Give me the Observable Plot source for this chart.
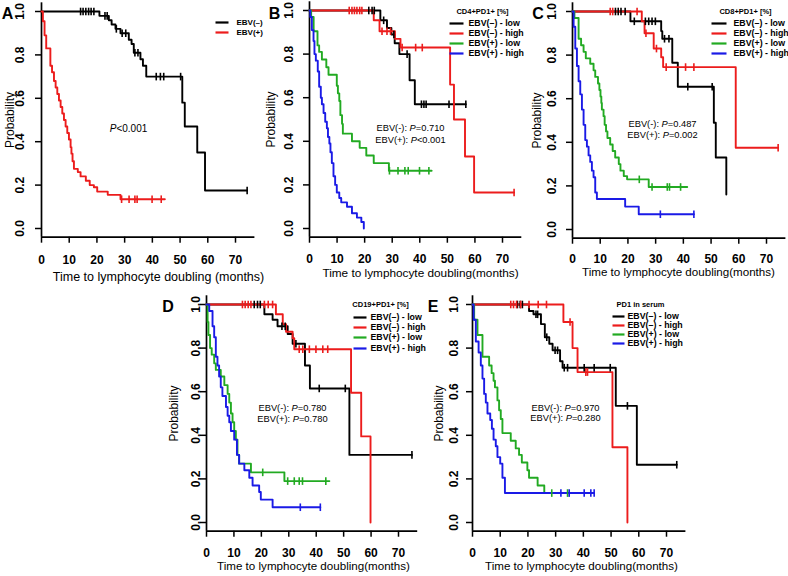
<!DOCTYPE html>
<html><head><meta charset="utf-8">
<script src="https://cdn.jsdelivr.net/npm/d3@7"></script>
<script src="https://cdn.jsdelivr.net/npm/@observablehq/plot@0.6"></script>
<style>
html,body{margin:0;padding:0;background:#fff;}
#chart{position:relative;width:788px;height:576px;overflow:hidden;font-family:"Liberation Sans",Arial,sans-serif;background:#fff;}
#chart svg{position:absolute;overflow:visible;background:transparent !important;max-width:none !important;}
</style></head><body><div id="chart"></div>
<script>
// ================= DATA =================
const xTicks = [0, 10, 20, 30, 40, 50, 60, 70];
const yTicks = [0, 0.2, 0.4, 0.6, 0.8, 1.0];
const xDomain = [0, 77];
const yDomain = [-0.04, 1.04];
const namesTwo = ["EBV(–)", "EBV(+)"];
const namesFour = ["EBV(–) - low", "EBV(–) - high", "EBV(+) - low", "EBV(+) - high"];
const letters = ["A", "B", "C", "D", "E"];
const legendTitles = [null, "CD4+PD1+ [%]", "CD8+PD1+ [%]", "CD19+PD1+ [%]", "PD1 in serum"];
const xTitleA = "Time to lymphocyte doubling (months)";
const xTitleOther = "Time to lymphocyte doubling(months)";
const yTitle = "Probability";
const notesA = ["P<0.001"];
const notesB = ["EBV(-): P=0.710", "EBV(+): P<0.001"];
const notesC = ["EBV(-): P=0.487", "EBV(+): P=0.002"];
const notesD = ["EBV(-): P=0.780", "EBV(+): P=0.780"];
const notesE = ["EBV(-): P=0.970", "EBV(+): P=0.280"];

// Panel A: [time, survival] steps and censor times
const aNegSteps = [[0,1],[20.9,0.98],[24.3,0.96],[25.3,0.94],[26.7,0.92],[28.5,0.9],[31.5,0.87],[32.5,0.85],[33.3,0.81],[35.7,0.78],[36.6,0.75],[37.8,0.7],[50.8,0.58],[51.7,0.47],[56.2,0.35],[59,0.175],[74.2,0.175]];
const aNegCens = [14.1,15,16,17,17.9,18.9,22.9,23.7,27,29.1,30.4,33.7,34.8,41.4,42.9,44.1,50.2,74.2];
const aPosSteps = [[0,1],[0.5,0.955],[1.1,0.89],[1.7,0.83],[3.2,0.75],[3.8,0.72],[4.5,0.68],[5.1,0.65],[5.7,0.62],[6.3,0.59],[6.9,0.56],[7.5,0.53],[8.1,0.5],[8.7,0.47],[9.3,0.44],[9.9,0.41],[10.5,0.375],[10.8,0.345],[11.2,0.31],[11.7,0.275],[13.1,0.26],[14.1,0.24],[16,0.22],[17.4,0.2],[18.9,0.19],[20.1,0.17],[23.9,0.155],[28.5,0.135],[44.5,0.135]];
const aPosCens = [28.9,31.6,33.7,34.5,39.9,43.2];

// Panel B
const bNegLowSteps = [[0,1],[25.7,0.955],[28.1,0.92],[29.7,0.89],[30.9,0.85],[32.6,0.8],[36.3,0.68],[38.2,0.57],[56.7,0.57]];
const bNegLowCens = [21.5,22.7,23.5,26.9,30.6,35.4,40.6,41.5,42.3,50.6,56.7];
const bNegHighSteps = [[0,1],[23.3,0.955],[25.4,0.905],[31,0.87],[33,0.83],[51,0.66],[52.4,0.5],[56.4,0.33],[59.7,0.165],[74.2,0.165]];
const bNegHighCens = [14.4,15.4,16.3,17.2,18.2,19,26.3,28.1,29.4,33.6,38.5,40.9,74.2];
const bPosLowSteps = [[0,1],[0.6,0.97],[1.5,0.905],[2.9,0.84],[3.5,0.81],[4.5,0.775],[6.1,0.74],[6.9,0.705],[9.9,0.655],[10.3,0.62],[10.8,0.585],[11.2,0.52],[11.8,0.48],[12.1,0.435],[15.4,0.4],[18.2,0.37],[20.6,0.335],[23.3,0.3],[28.8,0.265],[44.3,0.265]];
const bPosLowCens = [29,32.1,34.6,35.8,39.9,43.3];
const bPosHighSteps = [[0,1],[0.3,0.97],[0.85,0.91],[1.46,0.86],[1.8,0.8],[2.3,0.77],[3,0.72],[3.5,0.65],[4.1,0.6],[4.5,0.57],[5.1,0.53],[5.7,0.49],[6.3,0.46],[6.7,0.42],[7.2,0.39],[7.6,0.35],[8.1,0.3],[8.7,0.24],[9.3,0.2],[9.9,0.165],[10.8,0.14],[11.5,0.12],[13.6,0.1],[15.4,0.07],[17.2,0.05],[18.8,0.03],[19.7,0]];
const bPosHighCens = [];

// Panel C
const cNegLowSteps = [[0,1],[20.9,0.955],[32,0.91],[32.4,0.875],[36,0.765],[38,0.655],[51,0.49],[51.7,0.33],[55.5,0.16]];
const cNegLowCens = [15.5,16.5,17.5,19,22.3,26.3,27.5,28.7,29.9,33.2,34.8,41.6,50.4];
const cNegHighSteps = [[0,1],[25,0.955],[26,0.9],[29.3,0.83],[32,0.79],[32.7,0.745],[58.9,0.375],[74.2,0.375]];
const cNegHighCens = [13.6,14.5,23.3,26.5,30.3,33.8,40.8,43.8,74.2];
const cPosLowSteps = [[0,1],[0.7,0.97],[2.2,0.875],[3.1,0.845],[4,0.815],[4.8,0.785],[6.4,0.76],[7.6,0.73],[8.2,0.7],[9.2,0.67],[9.7,0.64],[10.1,0.61],[10.4,0.58],[10.6,0.55],[11.2,0.52],[11.6,0.48],[12.1,0.45],[12.6,0.42],[13.6,0.39],[14.5,0.36],[15.4,0.33],[16.7,0.3],[17.3,0.27],[18.5,0.245],[19.7,0.23],[27.5,0.195],[41.4,0.195]];
const cPosLowCens = [24.1,28.7,34.2,35,39];
const cPosHighSteps = [[0,1],[0.4,0.93],[1,0.83],[1.6,0.75],[2.2,0.68],[2.8,0.62],[3.4,0.55],[4,0.48],[4.6,0.41],[5.2,0.38],[5.8,0.34],[6.4,0.31],[7,0.27],[7.6,0.24],[8.2,0.17],[8.8,0.14],[19,0.105],[23.9,0.07],[43.8,0.07]];
const cPosHighCens = [31.7,43.8];

// Panel D
const dNegLowSteps = [[0,1],[21.1,0.955],[24.1,0.93],[25.9,0.9],[29.6,0.865],[31.4,0.82],[35.9,0.72],[37.7,0.615],[52.1,0.31],[74.9,0.31]];
const dNegLowCens = [17.4,18.6,19.6,27.5,28.7,32.6,41.1,50.6,74.9];
const dNegHighSteps = [[0,1],[25.3,0.955],[27.8,0.91],[29,0.875],[31.4,0.845],[32,0.795],[52.7,0.595],[56.4,0.395],[59.8,0]];
const dNegHighCens = [13.1,14.1,15.2,16.2,21.1,22.5,24.1,33.8,35.1,37.5,39.9,42.4,44.2];
const dPosLowSteps = [[0,1],[0.4,0.92],[0.7,0.86],[1.3,0.8],[1.9,0.77],[2.8,0.73],[3.4,0.7],[5.2,0.67],[6.5,0.63],[7.7,0.59],[8.3,0.55],[8.9,0.5],[9.5,0.46],[10.1,0.42],[10.7,0.38],[11.3,0.31],[11.9,0.27],[16.2,0.23],[28.4,0.19],[44.8,0.19]];
const dPosLowCens = [20.5,29.6,32,33.8,35,43.5];
const dPosHighSteps = [[0,1],[1,0.97],[2.2,0.9],[2.8,0.85],[3.4,0.76],[4,0.72],[4.6,0.67],[5.2,0.62],[5.8,0.58],[7.1,0.53],[7.7,0.49],[8.3,0.46],[8.9,0.42],[10.1,0.38],[11.1,0.31],[11.9,0.27],[13.8,0.24],[15.6,0.205],[16.8,0.17],[19.2,0.14],[19.8,0.105],[24.1,0.07],[41.5,0.07]];
const dPosHighCens = [34.2,41.5];

// Panel E
const eNegLowSteps = [[0,1],[20.4,0.97],[22,0.955],[24.7,0.91],[26.1,0.85],[27.7,0.82],[28.9,0.79],[31.6,0.74],[32.5,0.71],[51.7,0.535],[59.3,0.265],[73.7,0.265]];
const eNegLowCens = [16.2,17.2,18,22.9,23.5,26.8,29.8,30.7,33.1,34.3,40.3,43.9,49.7,55.9,73.7];
const eNegHighSteps = [[0,1],[32.8,0.92],[36.1,0.8],[37.9,0.69],[50.5,0.345],[55.9,0]];
const eNegHighCens = [13.8,14.8,15.9,17.4,20.4,23.7,26.7,35.2,40.9,41.5];
const ePosLowSteps = [[0,1],[0.6,0.93],[1.8,0.86],[3.6,0.76],[6,0.72],[6.9,0.685],[7.6,0.65],[8.1,0.62],[9,0.56],[9.6,0.515],[10.2,0.475],[10.8,0.41],[13.8,0.375],[15.6,0.34],[16.8,0.31],[17.8,0.275],[19.8,0.24],[20.4,0.205],[23.5,0.17],[25.9,0.135],[34.9,0.135]];
const ePosLowCens = [28.6,34.3];
const ePosHighSteps = [[0,1],[0.4,0.93],[1.2,0.83],[2.2,0.78],[3,0.72],[3.6,0.66],[4.2,0.59],[4.8,0.55],[5.4,0.5],[6.4,0.47],[7,0.43],[7.6,0.38],[8.4,0.35],[9,0.3],[10,0.27],[10.8,0.205],[11.7,0.135],[43.9,0.135]];
const ePosHighCens = [31.9,34.9,40.3,42.7,43.9];

// ================= STYLE / LAYOUT =================
const colorsTwo = ["#000000", "#ec1c1c"];
const colorsFour = ["#000000", "#ec1c1c", "#22aa22", "#1a1ae6"];
const FONT = '"Liberation Sans", Arial, Helvetica, sans-serif';

// pixel layout (page coordinates)
const layouts = [
  {left:0, top:0, w:265, h:285, x0:41, x70:235, y1:11, y0:228, letter:[7,13], ytickPad:12, xtickPad:12,
   xTitle:[158,276], xTitleSize:12.5, yLabel:[9.5,119.5], legLine:[215,228], legRows:[22,32], legTextX:236, legTitle:null, legSize:8, notePos:[[128,128]], noteSize:10},
  {left:262, top:0, w:263, h:285, x0:309, x70:502, y1:10, y0:228, letter:[274,13], ytickPad:10.5, xtickPad:11,
   xTitle:[420,273], xTitleSize:11.8, yLabel:[271,119], legLine:[449,463], legRows:[23,33,43,53], legTextX:468, legTitle:[482,11], legSize:8.8, notePos:[[410,128],[410,140]], noteSize:9.3},
  {left:525, top:0, w:263, h:285, x0:572, x70:766, y1:11, y0:229, letter:[537.5,13], ytickPad:10.5, xtickPad:10,
   xTitle:[678,272], xTitleSize:11.6, yLabel:[537,120], legLine:[711,726], legRows:[23,33,43,53], legTextX:733, legTitle:[745,11], legSize:8.8, notePos:[[662,124],[662,135]], noteSize:9.3},
  {left:160, top:285, w:265, h:291, x0:206, x70:398, y1:304, y0:522, letter:[167.5,306], ytickPad:1, xtickPad:11,
   xTitle:[313,566], xTitleSize:11.6, yLabel:[174,413], legLine:[353,366], legRows:[317,327,337,348], legTextX:370, legTitle:[380,304], legSize:8.8, notePos:[[292,408],[292,419]], noteSize:9.3},
  {left:425, top:285, w:263, h:291, x0:472, x70:666, y1:304, y0:522, letter:[432.5,306], ytickPad:8.5, xtickPad:11,
   xTitle:[581,565.5], xTitleSize:11.6, yLabel:[439,413], legLine:[612,624], legRows:[316,325,334,343], legTextX:627, legTitle:[640,304], legSize:8.8, notePos:[[565,408],[565,418]], noteSize:9.3}
];

const vTick = {draw(ctx, size) { const r = Math.sqrt(size / Math.PI); ctx.moveTo(0, -r); ctx.lineTo(0, r); }};
const hTick = {draw(ctx, size) { const r = Math.sqrt(size / Math.PI); ctx.moveTo(-r, 0); ctx.lineTo(r, 0); }};

function survAt(steps, t) {
  let s = steps[0][1];
  for (const [ti, si] of steps) { if (ti <= t) s = si; }
  return s;
}

function italicP(svg) {
  svg.querySelectorAll("text").forEach(t => {
    if (t.querySelector("tspan")) return;
    const s = t.textContent; const i = s.search(/P[=<]/);
    if (i < 0) return;
    t.textContent = "";
    t.append(document.createTextNode(s.slice(0, i)));
    const ts = document.createElementNS("http://www.w3.org/2000/svg", "tspan");
    ts.setAttribute("font-style", "italic"); ts.textContent = "P"; t.append(ts);
    t.append(document.createTextNode(s.slice(i + 1)));
  });
}

function label(str, ax, ay, pos, opts) {
  return Plot.text([str], Object.assign({frameAnchor: "top-left", dx: ax(pos[0]), dy: ay(pos[1]), text: d => d,
    textAnchor: "middle", lineAnchor: "middle"}, opts));
}

function makePanel(L, names, colors, curves, letter, legendTitle, notes, xTitle) {
  const kx = (L.x70 - L.x0) / 70, ky = L.y0 - L.y1;
  const xEnd = L.x0 + xDomain[1] * kx;
  const yTop = L.y0 - yDomain[1] * ky, yBot = L.y0 - yDomain[0] * ky;
  const ml = L.x0 - L.left, mr = L.left + L.w - xEnd, mt = yTop - L.top, mb = L.top + L.h - yBot;
  const ax = px => px - L.x0, ay = py => py - yTop;

  const lineData = curves.flatMap(c => c.steps.map(([t, s]) => ({name: c.name, t, s})));
  const censData = curves.flatMap(c => c.cens.map(t => ({name: c.name, t, s: survAt(c.steps, t)})));

  const marks = [
    Plot.ruleY([yDomain[0]], {stroke: "#000", strokeWidth: 1.7}),
    Plot.ruleX([xDomain[0]], {stroke: "#000", strokeWidth: 1.7}),
    Plot.axisX(xTicks, {anchor: "bottom", tickSize: 6, tickPadding: L.xtickPad, fontSize: 12, fontWeight: "bold", strokeWidth: 1.5, label: null}),
    Plot.axisY(yTicks, {anchor: "left", tickSize: 6, tickPadding: L.ytickPad, tickRotate: -90, tickFormat: d3.format(".1f"), fontSize: 12, fontWeight: "bold", strokeWidth: 1.5, label: null}),
    Plot.line(lineData, {x: "t", y: "s", z: "name", stroke: "name", curve: "step-after", strokeWidth: 1.9}),
    Plot.dot(censData, {x: "t", y: "s", stroke: "name", symbol: vTick, r: 3.8, strokeWidth: 1.6, fill: "none"}),
    label(letter, ax, ay, L.letter, {fontSize: 16, fontWeight: "bold"}),
    label(xTitle, ax, ay, L.xTitle, {fontSize: L.xTitleSize}),
    label(yTitle, ax, ay, L.yLabel, {fontSize: 12, rotate: -90})
  ];
  names.forEach((n, i) => {
    const cx = (L.legLine[0] + L.legLine[1]) / 2, half = (L.legLine[1] - L.legLine[0]) / 2;
    marks.push(Plot.dot([n], {frameAnchor: "top-left", dx: ax(cx), dy: ay(L.legRows[i]), symbol: hTick, r: half, stroke: d => d, strokeWidth: 2.2, fill: "none"}));
    marks.push(label(n, ax, ay, [L.legTextX, L.legRows[i]], {textAnchor: "start", fontSize: L.legSize, fontWeight: "bold"}));
  });
  if (legendTitle) {
    marks.push(label(legendTitle, ax, ay, L.legTitle, {fontSize: 7.5, fontWeight: "bold"}));
  }
  notes.forEach((n, i) => {
    marks.push(label(n, ax, ay, L.notePos[i], {fontSize: L.noteSize}));
  });

  const svg = Plot.plot({
    width: L.w, height: L.h,
    marginLeft: ml, marginRight: mr, marginTop: mt, marginBottom: mb,
    x: {domain: xDomain, range: [ml, L.w - mr]},
    y: {domain: yDomain, range: [L.h - mb, mt]},
    color: {domain: names, range: colors},
    style: {background: "transparent", overflow: "visible", fontFamily: FONT, color: "#000"},
    marks
  });
  svg.style.position = "absolute";
  svg.style.left = L.left + "px";
  svg.style.top = L.top + "px";
  italicP(svg);
  document.getElementById("chart").append(svg);
}

makePanel(layouts[0], namesTwo, colorsTwo, [
  {name: namesTwo[0], steps: aNegSteps, cens: aNegCens},
  {name: namesTwo[1], steps: aPosSteps, cens: aPosCens}
], letters[0], legendTitles[0], notesA, xTitleA);

makePanel(layouts[1], namesFour, colorsFour, [
  {name: namesFour[0], steps: bNegLowSteps, cens: bNegLowCens},
  {name: namesFour[1], steps: bNegHighSteps, cens: bNegHighCens},
  {name: namesFour[2], steps: bPosLowSteps, cens: bPosLowCens},
  {name: namesFour[3], steps: bPosHighSteps, cens: bPosHighCens}
], letters[1], legendTitles[1], notesB, xTitleOther);

makePanel(layouts[2], namesFour, colorsFour, [
  {name: namesFour[0], steps: cNegLowSteps, cens: cNegLowCens},
  {name: namesFour[1], steps: cNegHighSteps, cens: cNegHighCens},
  {name: namesFour[2], steps: cPosLowSteps, cens: cPosLowCens},
  {name: namesFour[3], steps: cPosHighSteps, cens: cPosHighCens}
], letters[2], legendTitles[2], notesC, xTitleOther);

makePanel(layouts[3], namesFour, colorsFour, [
  {name: namesFour[0], steps: dNegLowSteps, cens: dNegLowCens},
  {name: namesFour[1], steps: dNegHighSteps, cens: dNegHighCens},
  {name: namesFour[2], steps: dPosLowSteps, cens: dPosLowCens},
  {name: namesFour[3], steps: dPosHighSteps, cens: dPosHighCens}
], letters[3], legendTitles[3], notesD, xTitleOther);

makePanel(layouts[4], namesFour, colorsFour, [
  {name: namesFour[0], steps: eNegLowSteps, cens: eNegLowCens},
  {name: namesFour[1], steps: eNegHighSteps, cens: eNegHighCens},
  {name: namesFour[2], steps: ePosLowSteps, cens: ePosLowCens},
  {name: namesFour[3], steps: ePosHighSteps, cens: ePosHighCens}
], letters[4], legendTitles[4], notesE, xTitleOther);
</script>
</body></html>
